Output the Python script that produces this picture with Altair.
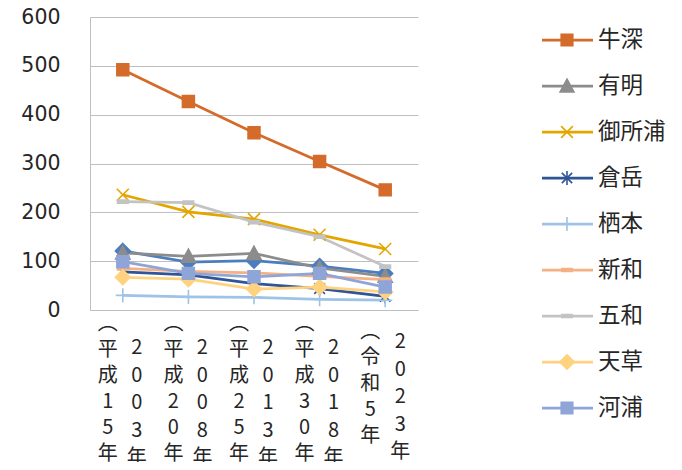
import altair as alt
import pandas as pd

# ---- data ----
eras = ["平成15年", "平成20年", "平成25年", "平成30年", "令和5年"]
westerns = ["2003年", "2008年", "2013年", "2018年", "2023年"]
cats = [f"{e}（{w}）" for e, w in zip(eras, westerns)]

names = ["本渡", "牛深", "有明", "御所浦", "倉岳", "栖本", "新和", "五和", "天草", "河浦"]
hondo = [121, 98, 101, 90, 75]
ushibuka = [492, 427, 363, 304, 246]
ariake = [117, 110, 116, 86, 69]
goshoura = [236, 201, 186, 154, 125]
kuratake = [78, 72, 54, 44, 28]
sumoto = [30, 27, 26, 22, 20]
shinwa = [85, 79, 76, 69, 62]
itsuwa = [222, 220, 180, 150, 89]
amakusa = [67, 63, 43, 47, 37]
kawaura = [99, 75, 68, 75, 47]
series_values = [hondo, ushibuka, ariake, goshoura, kuratake,
                 sumoto, shinwa, itsuwa, amakusa, kawaura]

# ---- styles ----
colors = ["#4A7EBF", "#D46B2A", "#8C8C8C", "#E3A600", "#2F5597",
          "#9DC3E6", "#F4B183", "#C3C3C3", "#FFD27F", "#8FA5D8"]
DIAMOND = "M0,-1.05L1.05,0L0,1.05L-1.05,0Z"
SQUARE = "M-0.84,-0.84H0.84V0.84H-0.84Z"
TRIANGLE = "M0,-1L1,0.85H-1Z"
XMARK = "M-0.85,-0.85L0.85,0.85M-0.85,0.85L0.85,-0.85"
ASTER = "M-0.75,-0.75L0.75,0.75M-0.75,0.75L0.75,-0.75M0,-1V1"
PLUS = "M-1,0H1M0,-1V1"
DASH = "M-0.75,-0.22H0.75V0.22H-0.75Z"
shapes = [DIAMOND, SQUARE, TRIANGLE, XMARK, ASTER, PLUS, DASH, DASH, DIAMOND, SQUARE]

FONT = "Noto Sans CJK JP"
NUMFONT = "DejaVu Sans"
W, H = 328, 293

rows = []
for i, (n, vals) in enumerate(zip(names, series_values)):
    for c, v in zip(cats, vals):
        rows.append({"series": n, "cat": c, "value": v, "ord": i})
df = pd.DataFrame(rows)

lab = pd.DataFrame({
    "cat": cats,
    "col1": ["\n".join(["︵"] + list(e)) for e in eras],
    "col2": ["\n".join(list(w) + ["︶"]) for w in westerns],
    "last": [c == cats[-1] for c in cats],
})

leg = pd.DataFrame({"series": names, "idx": list(range(len(names)))})

color = alt.Color("series:N", scale=alt.Scale(domain=names, range=colors), legend=None)
stroke = alt.Stroke("series:N", scale=alt.Scale(domain=names, range=colors), legend=None)
shape = alt.Shape("series:N", scale=alt.Scale(domain=names, range=shapes), legend=None)

xenc = alt.X("cat:N", sort=cats,
             scale=alt.Scale(domain=cats, type="point", padding=0.5),
             axis=alt.Axis(labels=False, ticks=False, title=None, grid=False,
                           domain=True, domainColor="#BFBFBF", domainWidth=1))
yenc = alt.Y("value:Q", scale=alt.Scale(domain=[0, 600], nice=False),
             axis=alt.Axis(values=[0, 100, 200, 300, 400, 500, 600], title=None,
                           grid=True, gridColor="#BFBFBF", gridWidth=1,
                           domain=True, domainColor="#BFBFBF", ticks=False, tickSize=0,
                           labelPadding=30, labelFont=NUMFONT, labelFontSize=20.5,
                           labelColor="#262626"))

lines = alt.Chart(df).mark_line(strokeWidth=2.75).encode(
    x=xenc, y=yenc, color=color, detail="series:N")
points = alt.Chart(df).mark_point(filled=True, size=200, strokeWidth=1.6, opacity=1).encode(
    x=xenc, y=yenc, color=color, stroke=stroke, shape=shape)

xbase = alt.Chart(lab)
txt = dict(font=FONT, fontSize=20, color="#262626", lineBreak="\n",
           align="center", baseline="top")
c1a = xbase.transform_filter("!datum.last").mark_text(dx=-15, lineHeight=26, **txt).encode(
    x=alt.X("cat:N", sort=cats), y=alt.value(297), text="col1:N")
c1b = xbase.transform_filter("datum.last").mark_text(dx=-15, lineHeight=26, **txt).encode(
    x=alt.X("cat:N", sort=cats), y=alt.value(305), text="col1:N")
c2a = xbase.transform_filter("!datum.last").mark_text(dx=14, lineHeight=27.5, **txt).encode(
    x=alt.X("cat:N", sort=cats), y=alt.value(321), text="col2:N")
c2b = xbase.transform_filter("datum.last").mark_text(dx=15, lineHeight=27.5, **txt).encode(
    x=alt.X("cat:N", sort=cats), y=alt.value(315), text="col2:N")

main = alt.layer(lines, points, c1a, c1b, c2a, c2b)

ly = alt.Y("idx:Q", scale=alt.Scale(domain=[0, 9], range=[-23, 391]), axis=None)
lbase = alt.Chart(leg)
lrule = lbase.mark_rule(strokeWidth=2.75).encode(
    x=alt.value(452), x2=alt.value(503), y=ly, color=color)
lpts = lbase.mark_point(filled=True, size=190, strokeWidth=1.6, opacity=1).encode(
    x=alt.value(477), y=ly, color=color, stroke=stroke, shape=shape)
ltxt = lbase.mark_text(align="left", baseline="middle", font=FONT, fontSize=22.5,
                       color="#262626").encode(
    x=alt.value(508), y=ly, text="series:N")
legend = alt.layer(lrule, lpts, ltxt)

chart = alt.layer(main, legend).resolve_scale(y="independent").properties(
    width=W, height=H,
    autosize=alt.AutoSizeParams(type="none"),
    padding={"left": 82, "top": 9, "right": 666 - 82 - W, "bottom": 454 - 9 - H},
).configure_view(stroke=None)

chart.save("out.html", embed_options={"renderer": "svg", "actions": False})
